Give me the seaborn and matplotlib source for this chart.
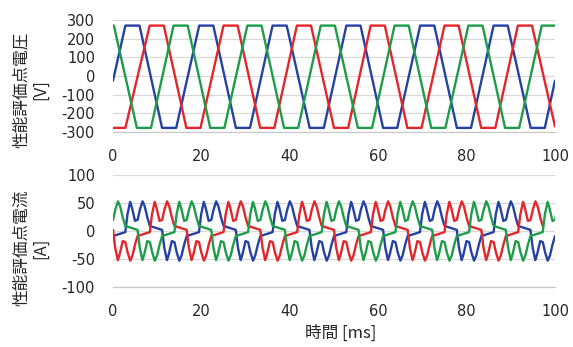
import numpy as np
import pandas as pd
import matplotlib
matplotlib.use("Agg")
import matplotlib.pyplot as plt
import seaborn as sns

# ---------------- data ----------------
# Voltage: corner points of the trapezoidal phase voltages [ms], [V]
v_blue_t = [0, 2.8, 6.0, 11.1, 14.3, 19.5, 22.7, 27.8, 31.0, 36.1, 39.3, 44.5, 47.7,
            52.8, 56.0, 61.1, 64.3, 69.5, 72.7, 77.8, 81.0, 86.1, 89.3, 94.5, 97.7, 100]
v_blue = [-25] + [270, 270, -278, -278] * 6 + [-25]

v_red_t = [0, 2.8, 8.3, 11.5, 16.6, 19.8, 25.0, 28.2, 33.3, 36.5, 41.6, 44.8, 50.0,
           53.2, 58.3, 61.5, 66.6, 69.8, 75.0, 78.2, 83.3, 86.5, 91.6, 94.8, 100]
v_red = [-278, -278] + [270, 270, -278, -278] * 5 + [270, 270, -270]

v_green_t = [0, 0.2, 5.4, 8.6, 13.7, 16.9, 22.0, 25.2, 30.4, 33.6, 38.7, 41.9, 47.0,
             50.2, 55.4, 58.6, 63.7, 66.9, 72.0, 75.2, 80.4, 83.6, 88.7, 91.9, 97.0, 100]
v_green = [270, 270] + [-278, -278, 270, 270] * 6

# Current: shape of one conduction lobe (offset in ms, magnitude in A)
lobe_dt = [0.0, 0.5, 1.1, 1.5, 2.2, 2.8, 3.3, 3.9, 4.4, 5.0, 5.56]
lobe_amp = [-2, 30, 52, 42, 18, 20, 38, 53, 44, 24, 9]

# Lobe start times [ms] and polarity per phase
i_blue_starts = [-5.56, 2.78, 11.11, 19.45, 27.78, 36.11, 44.45, 52.78, 61.11, 69.45,
                 77.78, 86.11, 94.45]
i_blue_signs = [-1, 1, -1, 1, -1, 1, -1, 1, -1, 1, -1, 1, -1]
i_red_starts = [-8.33, 0.0, 8.33, 16.67, 25.0, 33.33, 41.67, 50.0, 58.33, 66.67, 75.0,
                83.33, 91.67]
i_red_signs = [1, -1, 1, -1, 1, -1, 1, -1, 1, -1, 1, -1, 1]
i_green_starts = [-2.78, 5.56, 13.89, 22.22, 30.56, 38.89, 47.22, 55.56, 63.89, 72.22,
                  80.56, 88.89, 97.22]
i_green_signs = [1, -1, 1, -1, 1, -1, 1, -1, 1, -1, 1, -1, 1]

x_ticks = [0, 20, 40, 60, 80, 100]
v_ticks = [-300, -200, -100, 0, 100, 200, 300]
i_ticks = [-100, -50, 0, 50, 100]

colors = {"U": "#2541a4", "V": "#e3262b", "W": "#1f9c4a"}


def lobes_table(starts, signs, phase):
    rows = []
    for s0, sg in zip(starts, signs):
        for dt, a in zip(lobe_dt, lobe_amp):
            rows.append((s0 + dt, sg * a, phase))
    return rows


volt = pd.DataFrame(
    [(t, v, "U") for t, v in zip(v_blue_t, v_blue)]
    + [(t, v, "V") for t, v in zip(v_red_t, v_red)]
    + [(t, v, "W") for t, v in zip(v_green_t, v_green)],
    columns=["t", "val", "phase"])
curr = pd.DataFrame(
    lobes_table(i_blue_starts, i_blue_signs, "U")
    + lobes_table(i_red_starts, i_red_signs, "V")
    + lobes_table(i_green_starts, i_green_signs, "W"),
    columns=["t", "val", "phase"])

# ---------------- figure ----------------
sns.set_theme(style="white")
plt.rcParams["font.family"] = ["DejaVu Sans", "Noto Sans CJK JP"]
plt.rcParams["axes.unicode_minus"] = False

W, H = 573, 347
fig = plt.figure(figsize=(W / 100, H / 100), dpi=100)
fig.patch.set_facecolor("white")

ax1 = fig.add_axes([113 / W, 1 - 132 / H, 442 / W, 112 / H])
ax2 = fig.add_axes([113 / W, 1 - 287 / H, 442 / W, 112 / H])

for ax, df, ticks, lim in [(ax1, volt, v_ticks, (-300, 300)),
                           (ax2, curr, i_ticks, (-100, 100))]:
    sns.lineplot(data=df, x="t", y="val", hue="phase", hue_order=["U", "V", "W"],
                 palette=colors, estimator=None, sort=False, legend=False,
                 linewidth=1.7, ax=ax)
    ax.set_xlim(0, 100)
    ax.set_ylim(*lim)
    ax.set_xticks(x_ticks)
    ax.set_yticks(ticks)
    ax.set_xlabel("")
    ax.set_ylabel("")
    ax.yaxis.grid(True, color="#d9d9d9", linewidth=0.9)
    ax.xaxis.grid(False)
    ax.set_axisbelow(True)
    for sp in ["left", "right", "top"]:
        ax.spines[sp].set_visible(False)
    ax.spines["bottom"].set_color("#c8c8c8")
    ax.spines["bottom"].set_linewidth(0.9)
    ax.tick_params(axis="x", direction="out", length=4, width=0.9, color="#c8c8c8",
                   pad=8, labelsize=10.5, labelcolor="#262626")
    ax.tick_params(axis="y", length=0, pad=13, labelsize=10.5, labelcolor="#262626")
    ax.set_facecolor("white")

cjk = ["Noto Sans CJK JP", "DejaVu Sans"]
fig.text(31 / W, 1 - 90 / H, "性能評価点電圧\n[V]", rotation=90, ha="center",
         va="center", multialignment="center", fontsize=12, family=cjk,
         color="#262626", linespacing=1.15)
fig.text(31 / W, 1 - 248 / H, "性能評価点電流\n[A]", rotation=90, ha="center",
         va="center", multialignment="center", fontsize=12, family=cjk,
         color="#262626", linespacing=1.15)
fig.text(341 / W, 1 - 333 / H, "時間 [ms]", ha="center", va="center",
         fontsize=12, family=cjk, color="#262626")

fig.savefig("out.png", dpi=100, facecolor="white")
